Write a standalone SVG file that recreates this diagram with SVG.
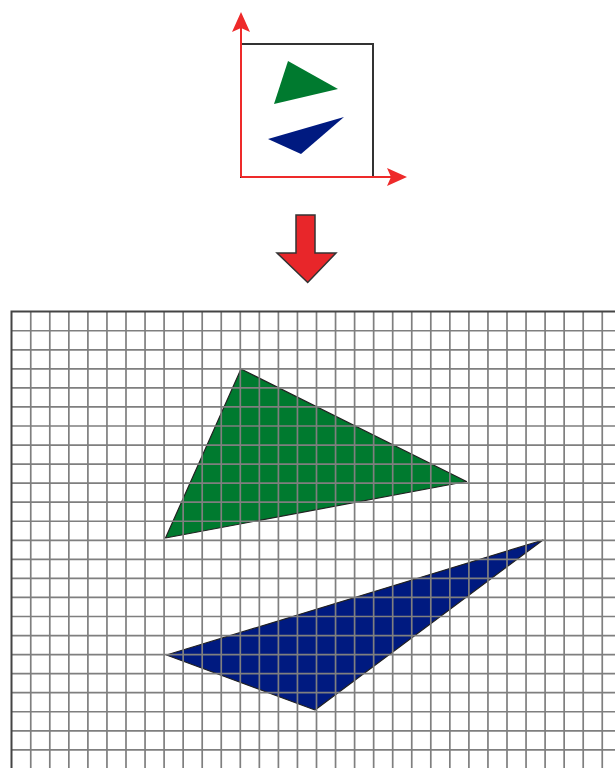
<svg xmlns="http://www.w3.org/2000/svg" width="615" height="768" viewBox="0 0 615 768">
<defs>
<style>
.axis{stroke:#EE2A2A;stroke-width:2;fill:none}
.head{fill:#EE2A2A;stroke:none}
.frame{stroke:#333;stroke-width:2;fill:none}
.green{fill:#007A2F}
.blue{fill:#001A80}
.tri{stroke:#222;stroke-width:1.2;stroke-linejoin:round}
.grid{stroke:#7f7f7f;stroke-width:1.7;fill:none}
.border{stroke:#444;stroke-width:2;fill:none}
</style>
</defs>
<rect width="615" height="768" fill="#fff"/>

<g id="source">
<rect class="frame" x="241" y="44" width="132" height="133"/>
<polygon class="green" points="288,61 338,89 274,104"/>
<polygon class="blue" points="344,117 268,139 301,154"/>
<line class="axis" x1="241" y1="177" x2="241" y2="22"/>
<line class="axis" x1="241" y1="177" x2="398" y2="177"/>
<path class="head" d="M241 12 L250 32 L241 28 L232 32 Z"/>
<path class="head" d="M407 177 L387 186 L391 177 L387 168 Z"/>
</g>

<g id="arrow">
<path d="M296 215 H315 V253 H336 L307.7 282.5 L277 253 H296 Z" fill="#E8262A" stroke="#333" stroke-width="1.5" stroke-linejoin="miter"/>
</g>

<g id="raster">
<polygon class="green tri" points="241,369 466.5,481.5 165.5,538"/>
<polygon class="blue tri" points="166.5,655 543,540 315,710"/>
<path class="grid" d="M30.75 311.7V768 M49.8 311.7V768 M68.85 311.7V768 M87.9 311.7V768 M106.95 311.7V768 M126 311.7V768 M145.05 311.7V768 M164.1 311.7V768 M183.15 311.7V768 M202.2 311.7V768 M221.25 311.7V768 M240.3 311.7V768 M259.35 311.7V768 M278.4 311.7V768 M297.45 311.7V768 M316.5 311.7V768 M335.55 311.7V768 M354.6 311.7V768 M373.65 311.7V768 M392.7 311.7V768 M411.75 311.7V768 M430.8 311.7V768 M449.85 311.7V768 M468.9 311.7V768 M487.95 311.7V768 M507 311.7V768 M526.05 311.7V768 M545.1 311.7V768 M564.15 311.7V768 M583.2 311.7V768 M602.25 311.7V768 M11.7 330.75H615 M11.7 349.8H615 M11.7 368.85H615 M11.7 387.9H615 M11.7 406.95H615 M11.7 426H615 M11.7 445.05H615 M11.7 464.1H615 M11.7 483.15H615 M11.7 502.2H615 M11.7 521.25H615 M11.7 540.3H615 M11.7 559.35H615 M11.7 578.4H615 M11.7 597.45H615 M11.7 616.5H615 M11.7 635.55H615 M11.7 654.6H615 M11.7 673.65H615 M11.7 692.7H615 M11.7 711.75H615 M11.7 730.8H615 M11.7 749.85H615"/>
<path class="border" d="M11.5 768 V311.5 H615"/>
</g>
</svg>
